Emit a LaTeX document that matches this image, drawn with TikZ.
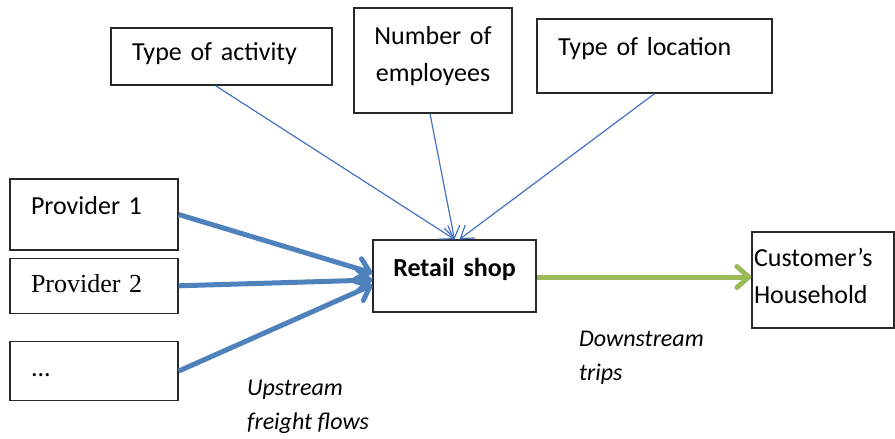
\documentclass[tikz,border=0pt]{standalone}
\usepackage{fontspec}
\setmainfont{Carlito}
\newfontfamily\timesfont{Liberation Serif}
\usetikzlibrary{positioning,arrows.meta}
\definecolor{thinblue}{RGB}{68,114,196}
\definecolor{flowblue}{RGB}{79,129,189}
\definecolor{tripgreen}{RGB}{155,187,89}
\definecolor{boxline}{RGB}{40,40,40}

\begin{document}
\begin{tikzpicture}[x=1pt,y=-1pt,font=\fontsize{26}{37}\selectfont]
\tikzstyle{box}=[draw=boxline,line width=1.3pt,rectangle,inner ysep=0pt,text height=18pt]
\tikzstyle{leftbox}=[box,align=left,inner xsep=21pt]
\tikzstyle{factor}=[draw=thinblue,line width=1.2pt,-{Straight Barb[length=12pt,width=16pt]}]
\tikzstyle{upstream}=[draw=flowblue,line width=5pt,-{Straight Barb[round,length=12pt,width=21pt]}]
\tikzstyle{downstream}=[draw=tripgreen,line width=5pt,-{Straight Barb[round,length=12pt,width=21pt]}]
\tikzstyle{flowlabel}=[font=\fontsize{24}{34}\selectfont\itshape,align=left,anchor=west,inner sep=0pt]

\useasboundingbox (0,0) rectangle (895,439);

% factors on top
\node[leftbox,text width=179pt,minimum height=57pt,text depth=10pt] (act) at (221.5,56.5) {Type of activity};
\node[box,align=center,text width=150pt,inner xsep=4pt,minimum height=105pt,text depth=50pt] (emp) at (433,60.5) {Number of\\employees};
\node[leftbox,text width=193pt,minimum height=74pt,text depth=19pt] (loc) at (654.5,56) {Type of location};

% providers
\node[leftbox,text width=126pt,minimum height=71pt,text depth=18pt] (p1) at (94,214.5) {Provider 1};
\node[leftbox,text width=126pt,minimum height=55pt,text depth=4pt] (p2) [below=7pt of p1] {\timesfont Provider 2};
\node[leftbox,text width=126pt,minimum height=59pt,text depth=7pt] (dots) [below=27pt of p2] {...};

\node[box,align=center,text width=155pt,inner xsep=4pt,minimum height=72pt,text depth=18pt] (shop) at (454.5,276) {\bfseries Retail shop};
\node[box,align=left,text width=138pt,inner xsep=2pt,minimum height=96pt,text depth=45pt] (cust) at (823,280) {Customer’s\\Household};

\path
  ([xshift=-6pt]act.south) edge [factor] (shop.north)
  ([xshift=-3pt]emp.south) edge [factor] (shop.north)
  (loc.south) edge [factor] ([xshift=5pt]shop.north)
  (p1.east) edge [upstream] ([yshift=3pt]shop.west)
  (p2.east) edge [upstream] ([yshift=-4pt]shop.west)
  (dots.east) edge [upstream] ([yshift=-9pt]shop.west)
  ([yshift=-1pt]shop.east) edge [downstream] ([yshift=-1pt]shop.east -| cust.west);

\node[flowlabel] (up) at (247,407) {Upstream\\freight flows};
\node[flowlabel] (down) at (579,357.5) {Downstream\\trips};
\end{tikzpicture}
\end{document}
